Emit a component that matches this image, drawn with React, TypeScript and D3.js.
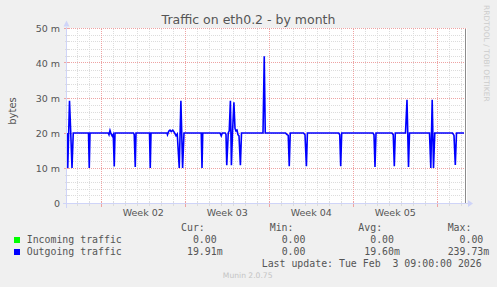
import React from "react";
import * as d3 from "d3";

// ---- data ----
const TITLE = "Traffic on eth0.2 - by month";
const Y_LABEL = "bytes";
const BASE = Date.UTC(2026, 0, 1); // hours below are counted from 2026-01-01 00:00 UTC
const DOMAIN_HOURS = [27.5, 827.5];
const yTicksMilli = [0, 10, 20, 30, 40, 50];
const yMinorStep = 2;

// outgoing traffic: [hour offset, value in milli-bytes]
const outgoing: [number, number][] = [
  [27.5, 20], [29, 10], [32.5, 29.2], [35, 20], [37.5, 10], [40, 20],
  [70.5, 20], [72, 10], [73.5, 20],
  [110, 20], [111.5, 19.5], [113.5, 20.7], [115.5, 19.8], [118, 19.1], [120, 19.6], [122, 10.4], [123.5, 20],
  [160.5, 20], [162, 19.5], [164, 10.3], [165.5, 20],
  [192.5, 20], [194, 10], [195.5, 20],
  [227.5, 20], [228.5, 19.5], [231, 20.5], [233.5, 20.8], [236, 20.4], [239, 20.8], [241.5, 20.3], [243.5, 19.8], [245.5, 19.2], [248, 19.7], [252, 10], [255.3, 29.2], [258.7, 10], [261.5, 20],
  [296, 20], [297.5, 10], [299, 20],
  [333.5, 20], [336, 19.2], [338, 20],
  [344, 20], [345.5, 19.6], [347, 10.8], [350, 20], [352, 20.6], [354.3, 29.2], [356.3, 10.8], [358.5, 20], [361.3, 28.8], [363.5, 21.3], [365.5, 20.6], [367.5, 20.8], [369.5, 19.5], [371.5, 19.2], [374.3, 10.8], [376.5, 20],
  [419.5, 20], [422, 41.9], [424, 20],
  [464.5, 20], [467, 19.6], [470, 19.3], [472, 10.5], [474, 20],
  [500.5, 20], [503.5, 19.5], [506.3, 10.5], [508.3, 20],
  [571, 20], [573, 19.5], [574.9, 10.5], [576.9, 20],
  [639.5, 20], [641.5, 19.5], [643.5, 10.3], [645.5, 20],
  [677.5, 20], [680, 19.5], [682.1, 10.5], [684.1, 20],
  [704.5, 20], [707.5, 29.5], [710.5, 10.3], [712.5, 20],
  [752.5, 20], [755.1, 10], [757.9, 29.5], [760.5, 10], [763.1, 20],
  [798.5, 20], [801.5, 19.3], [804.1, 10.9], [806.5, 20],
  [821.5, 20],
];
const incoming: [number, number][] = [[27.5, 0], [821.5, 0]];

const seriesNames = ["Incoming traffic", "Outgoing traffic"];
const seriesColors = ["#00ff00", "#0000ff"];
const statHeaders = ["Cur:", "Min:", "Avg:", "Max:"];
const incomingStats = [0, 0, 0, 0];
const outgoingStats = [0.01991, 0, 0.0196, 0.23973];
const LAST_UPDATE = "Last update: Tue Feb  3 09:00:00 2026";
const VERSION = "Munin 2.0.75";
const WATERMARK = "RRDTOOL / TOBI OETIKER";

// ---- layout ----
const W = 497, H = 287;
const X0 = 67, X1 = 467, Y0 = 203.5, Y1 = 28.5;
const HOUR = 3600e3;
const BG = "#f0f0f0";
const TXT = "#555555";
const MINOR = "#dcdcdc";
const MAJOR = "#eea3a3";
const AXIS = "#cfd4f8";
const SANS = "'DejaVu Sans', sans-serif";
const MONO = "'DejaVu Sans Mono', monospace";

function fmtStat(v: number): string {
  let s = "";
  let x = v;
  if (v !== 0) {
    if (Math.abs(v) < 1) { x = v * 1000; s = "m"; }
  }
  return x.toFixed(2).padStart(6, " ") + s;
}

export default function App() {
  const t = (h: number) => new Date(BASE + h * HOUR);
  const x = d3.scaleUtc().domain([t(DOMAIN_HOURS[0]), t(DOMAIN_HOURS[1])]).range([X0, X1]);
  const y = d3.scaleLinear().domain([0, 50]).range([Y0, Y1]);
  const [d0, d1] = x.domain();

  const days = d3.utcDay.range(d0, d1);
  const mondays = d3.utcMonday.range(d0, d1);
  const minorY = d3.range(0, 50 + 0.001, yMinorStep);
  const weekFmt = d3.utcFormat("Week %V");

  const line = d3.line<[number, number]>()
    .x((d) => x(t(d[0])))
    .y((d) => y(d[1]));

  const px = (v: number) => Math.round(v) + 0.5;

  const colX = [175.1, 263.8, 352.4, 441.7];
  const charW = 5.94;
  const rowY = [231, 243, 255];

  return (
    <svg width={W} height={H} style={{ position: "absolute", left: 0, top: 0, background: BG }}
      xmlns="http://www.w3.org/2000/svg">
      <rect x={0} y={0} width={W} height={H} fill={BG} />
      <rect x={X0} y={Y1 - 0.5} width={X1 - X0} height={Y0 - Y1 + 0.5} fill="#ffffff" />

      {/* minor grid */}
      <g stroke={MINOR} strokeWidth={1} strokeDasharray="1,1" shapeRendering="crispEdges">
        {minorY.filter((v) => v % 10 !== 0).map((v) => (
          <line key={"hy" + v} x1={X0} x2={X1} y1={px(y(v)) - 1} y2={px(y(v)) - 1} />
        ))}
        {days.filter((d) => d.getUTCDay() !== 1).map((d) => (
          <line key={"vx" + +d} x1={px(x(d))} x2={px(x(d))} y1={Y1} y2={Y0} />
        ))}
      </g>
      {/* major grid */}
      <g stroke={MAJOR} strokeWidth={1} strokeDasharray="1,1" shapeRendering="crispEdges">
        {yTicksMilli.filter((v) => v !== 0).map((v) => (
          <line key={"HY" + v} x1={X0} x2={X1} y1={px(y(v)) - 1} y2={px(y(v)) - 1} />
        ))}
        {mondays.map((d) => (
          <line key={"VX" + +d} x1={px(x(d))} x2={px(x(d))} y1={Y1} y2={Y0} />
        ))}
      </g>
      {/* ticks */}
      <g shapeRendering="crispEdges" strokeWidth={1}>
        {days.map((d) => {
          const major = d.getUTCDay() === 1;
          return (
            <line key={"tx" + +d} x1={px(x(d))} x2={px(x(d))} y1={Y0 - 2} y2={Y0 + (major ? 3 : 2)}
              stroke={major ? MAJOR : MINOR} />
          );
        })}
        {minorY.map((v) => {
          const major = v % 10 === 0;
          return (
            <line key={"ty" + v} x1={X0 - (major ? 3 : 2)} x2={X0 + 2} y1={px(y(v)) - 1} y2={px(y(v)) - 1}
              stroke={major ? MAJOR : MINOR} />
          );
        })}
      </g>

      {/* right edge line */}
      <line x1={X1 - 1.5} x2={X1 - 1.5} y1={Y1} y2={Y0} stroke="#8c8c8c" strokeWidth={1} shapeRendering="crispEdges" />

      {/* series */}
      <path d={line(incoming) || ""} fill="none" stroke={seriesColors[0]} strokeWidth={1} shapeRendering="crispEdges"
        transform="translate(0,-0.5)" />
      <path d={line(outgoing) || ""} fill="none" stroke={seriesColors[1]} strokeWidth={1.6}
        strokeLinejoin="miter" transform="translate(0,-0.5)" />

      {/* axes */}
      <g stroke={AXIS} strokeWidth={1} shapeRendering="crispEdges">
        <line x1={X0 - 4} x2={X1 + 2} y1={Y0 - 0.5 + 0.5} y2={Y0} />
        <line x1={X0 - 0.5} x2={X0 - 0.5} y1={Y0 + 4} y2={Y1 - 2} />
      </g>
      <path d={`M${X1 + 1},${Y0 - 3.5}L${X1 + 6},${Y0}L${X1 + 1},${Y0 + 3.5}Z`} fill={AXIS} />
      <path d={`M${X0 - 3.5},${Y1 - 2}L${X0 - 0.5},${Y1 - 8}L${X0 + 2.5},${Y1 - 2}Z`} fill={AXIS} />

      {/* title */}
      <text x={248.5} y={24} textAnchor="middle" fontFamily={SANS} fontSize={12.5} fill={TXT}>{TITLE}</text>

      {/* y labels */}
      {yTicksMilli.map((v) => (
        <text key={"yl" + v} x={60} y={y(v) + 3.2} textAnchor="end" fontFamily={SANS} fontSize={9.5} fill={TXT}>
          {v === 0 ? "0" : `${v} m`}
        </text>
      ))}
      <text transform={`translate(15.5,111) rotate(-90)`} textAnchor="middle" fontFamily={SANS} fontSize={10} fill={TXT}>
        {Y_LABEL}
      </text>

      {/* x labels */}
      {mondays.map((d) => {
        const c = x(new Date(+d + 3.5 * 24 * HOUR));
        if (c > X1) return null;
        return (
          <text key={"xl" + +d} x={c} y={215.5} textAnchor="middle" fontFamily={SANS} fontSize={9.5} fill={TXT}>
            {weekFmt(d)}
          </text>
        );
      })}

      {/* watermark */}
      <text transform="translate(484,5) rotate(90)" fontFamily={SANS} fontSize={7.5} fill="#cccccc">{WATERMARK}</text>

      {/* legend */}
      <g fontFamily={MONO} fontSize={9.9} fill={TXT} style={{ whiteSpace: "pre" }}>
        {statHeaders.map((h, i) => (
          <text key={"h" + i} x={colX[i] + charW} y={rowY[0]}>{h}</text>
        ))}
        {[incomingStats, outgoingStats].map((stats, r) => (
          <g key={"row" + r}>
            <rect x={14} y={rowY[r + 1] - 6} width={6} height={6} fill={seriesColors[r]} />
            <text x={26.7} y={rowY[r + 1]}>{seriesNames[r]}</text>
            {stats.map((v, i) => (
              <text key={"s" + i} x={colX[i]} y={rowY[r + 1]} xmlSpace="preserve">{" " + fmtStat(v)}</text>
            ))}
          </g>
        ))}
        <text x={261.7} y={267} xmlSpace="preserve">{LAST_UPDATE}</text>
      </g>
      <text x={247.7} y={278} textAnchor="middle" fontFamily={SANS} fontSize={7.6} fill="#c4c4c4">{VERSION}</text>
    </svg>
  );
}
